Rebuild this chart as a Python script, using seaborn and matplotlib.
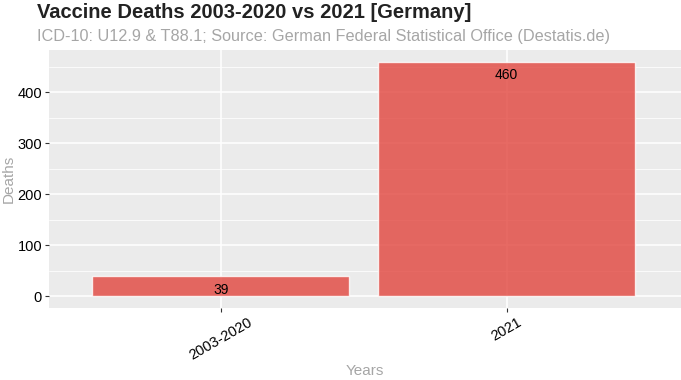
import numpy as np
import pandas as pd
import matplotlib
matplotlib.use("Agg")
import matplotlib.pyplot as plt
from matplotlib.ticker import MultipleLocator
import seaborn as sns

# data
periods = ["2003-2020", "2021"]
deaths = [39, 460]

df = pd.DataFrame({"Years": periods, "Deaths": deaths})

sns.set_theme(style="darkgrid")
plt.rcParams["font.family"] = ["Liberation Sans", "DejaVu Sans"]

fig = plt.figure(figsize=(6.81, 3.80), dpi=100)
ax = fig.add_axes([0.072, 0.1895, 0.928, 0.679])
ax.set_facecolor("#EBEBEB")

sns.barplot(data=df, x="Years", y="Deaths", color="#E2453D", alpha=0.8,
            saturation=1, width=0.9, ax=ax, zorder=3)

# value labels inside bars
for i, v in enumerate(deaths):
    ax.annotate(str(v), (i, v), xytext=(0, -4.5), textcoords="offset points",
                ha="center", va="top", fontsize=10, color="black", zorder=4)

ax.set_xlim(-0.6, 1.61)
ax.set_ylim(-23, 483)
ax.yaxis.set_major_locator(MultipleLocator(100))
ax.yaxis.set_minor_locator(MultipleLocator(50))
ax.set_axisbelow(True)
ax.grid(which="major", color="white", linewidth=1.1, zorder=0)
ax.grid(which="minor", axis="y", color="white", linewidth=0.55, zorder=0)
for s in ax.spines.values():
    s.set_visible(False)

ax.tick_params(axis="both", which="major", length=3, width=0.8, color="#333333",
               labelsize=10.5, labelcolor="black", pad=2, bottom=True, left=True)
ax.tick_params(which="minor", length=0)
plt.setp(ax.get_xticklabels(), rotation=30, ha="center", va="top")

ax.set_xlabel("Years", color="#A6A6A6", fontsize=11, labelpad=1)
ax.set_ylabel("Deaths", color="#A6A6A6", fontsize=11, labelpad=1)

fig.text(0.054, 0.967, "Vaccine Deaths 2003-2020 vs 2021 [Germany]",
         fontsize=14.5, fontweight="bold", color="#222222", va="center", ha="left")
fig.text(0.055, 0.903, "ICD-10: U12.9 & T88.1; Source: German Federal Statistical Office (Destatis.de)",
         fontsize=11.7, color="#A6A6A6", va="center", ha="left")

fig.savefig("out.png", dpi=100)
